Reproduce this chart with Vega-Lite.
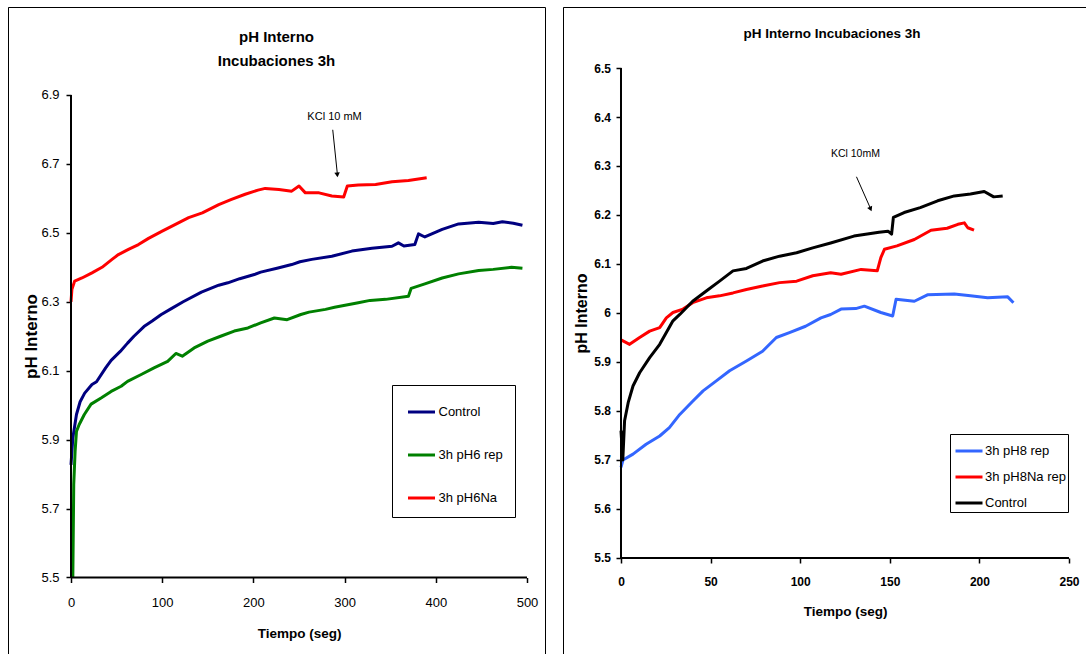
{
  "$schema": "https://vega.github.io/schema/vega-lite/v6.json",
  "background": "white",
  "padding": {"left": 7, "top": 6, "right": 0, "bottom": 0},
  "bounds": "flush",
  "spacing": 18,
  "config": {"font": "Liberation Sans"},
  "resolve": {"scale": {"color": "independent", "x": "independent", "y": "independent"}, "legend": {"color": "independent"}},
  "datasets": {
    "izq": [
      {"t": 0, "ph": 5.827, "serie": "Control"}, {"t": 2, "ph": 5.905, "serie": "Control"}, {"t": 6, "ph": 5.973, "serie": "Control"}, {"t": 10, "ph": 6.01, "serie": "Control"}, {"t": 15, "ph": 6.035, "serie": "Control"}, {"t": 23, "ph": 6.06, "serie": "Control"}, {"t": 28, "ph": 6.068, "serie": "Control"}, {"t": 38, "ph": 6.108, "serie": "Control"}, {"t": 44, "ph": 6.13, "serie": "Control"}, {"t": 54, "ph": 6.156, "serie": "Control"}, {"t": 62, "ph": 6.18, "serie": "Control"}, {"t": 69, "ph": 6.2, "serie": "Control"}, {"t": 80, "ph": 6.228, "serie": "Control"}, {"t": 89, "ph": 6.244, "serie": "Control"}, {"t": 99, "ph": 6.263, "serie": "Control"}, {"t": 110, "ph": 6.28, "serie": "Control"}, {"t": 123, "ph": 6.3, "serie": "Control"}, {"t": 143, "ph": 6.328, "serie": "Control"}, {"t": 162, "ph": 6.348, "serie": "Control"}, {"t": 172, "ph": 6.355, "serie": "Control"}, {"t": 185, "ph": 6.367, "serie": "Control"}, {"t": 201, "ph": 6.379, "serie": "Control"}, {"t": 208, "ph": 6.386, "serie": "Control"}, {"t": 227, "ph": 6.398, "serie": "Control"}, {"t": 242, "ph": 6.408, "serie": "Control"}, {"t": 251, "ph": 6.416, "serie": "Control"}, {"t": 264, "ph": 6.423, "serie": "Control"}, {"t": 286, "ph": 6.432, "serie": "Control"}, {"t": 308, "ph": 6.447, "serie": "Control"}, {"t": 330, "ph": 6.455, "serie": "Control"}, {"t": 352, "ph": 6.461, "serie": "Control"}, {"t": 359, "ph": 6.471, "serie": "Control"}, {"t": 365, "ph": 6.462, "serie": "Control"}, {"t": 377, "ph": 6.466, "serie": "Control"}, {"t": 381, "ph": 6.497, "serie": "Control"}, {"t": 388, "ph": 6.488, "serie": "Control"}, {"t": 407, "ph": 6.51, "serie": "Control"}, {"t": 425, "ph": 6.526, "serie": "Control"}, {"t": 447, "ph": 6.531, "serie": "Control"}, {"t": 463, "ph": 6.527, "serie": "Control"}, {"t": 473, "ph": 6.532, "serie": "Control"}, {"t": 485, "ph": 6.528, "serie": "Control"}, {"t": 495, "ph": 6.522, "serie": "Control"},
      {"t": 2, "ph": 5.5, "serie": "3h pH6 rep"}, {"t": 3, "ph": 5.77, "serie": "3h pH6 rep"}, {"t": 4.5, "ph": 5.866, "serie": "3h pH6 rep"}, {"t": 6, "ph": 5.924, "serie": "3h pH6 rep"}, {"t": 9, "ph": 5.944, "serie": "3h pH6 rep"}, {"t": 14.6, "ph": 5.973, "serie": "3h pH6 rep"}, {"t": 22, "ph": 6.003, "serie": "3h pH6 rep"}, {"t": 33, "ph": 6.021, "serie": "3h pH6 rep"}, {"t": 44, "ph": 6.04, "serie": "3h pH6 rep"}, {"t": 55, "ph": 6.055, "serie": "3h pH6 rep"}, {"t": 62, "ph": 6.069, "serie": "3h pH6 rep"}, {"t": 77, "ph": 6.089, "serie": "3h pH6 rep"}, {"t": 91, "ph": 6.108, "serie": "3h pH6 rep"}, {"t": 106, "ph": 6.127, "serie": "3h pH6 rep"}, {"t": 115, "ph": 6.15, "serie": "3h pH6 rep"}, {"t": 122, "ph": 6.142, "serie": "3h pH6 rep"}, {"t": 135, "ph": 6.166, "serie": "3h pH6 rep"}, {"t": 150, "ph": 6.186, "serie": "3h pH6 rep"}, {"t": 164, "ph": 6.2, "serie": "3h pH6 rep"}, {"t": 179, "ph": 6.215, "serie": "3h pH6 rep"}, {"t": 194, "ph": 6.224, "serie": "3h pH6 rep"}, {"t": 208, "ph": 6.239, "serie": "3h pH6 rep"}, {"t": 223, "ph": 6.253, "serie": "3h pH6 rep"}, {"t": 237, "ph": 6.248, "serie": "3h pH6 rep"}, {"t": 252, "ph": 6.263, "serie": "3h pH6 rep"}, {"t": 261, "ph": 6.27, "serie": "3h pH6 rep"}, {"t": 279, "ph": 6.278, "serie": "3h pH6 rep"}, {"t": 289, "ph": 6.284, "serie": "3h pH6 rep"}, {"t": 315, "ph": 6.297, "serie": "3h pH6 rep"}, {"t": 328, "ph": 6.304, "serie": "3h pH6 rep"}, {"t": 345, "ph": 6.307, "serie": "3h pH6 rep"}, {"t": 370, "ph": 6.316, "serie": "3h pH6 rep"}, {"t": 373, "ph": 6.339, "serie": "3h pH6 rep"}, {"t": 388, "ph": 6.352, "serie": "3h pH6 rep"}, {"t": 407, "ph": 6.369, "serie": "3h pH6 rep"}, {"t": 425, "ph": 6.381, "serie": "3h pH6 rep"}, {"t": 447, "ph": 6.391, "serie": "3h pH6 rep"}, {"t": 463, "ph": 6.394, "serie": "3h pH6 rep"}, {"t": 483, "ph": 6.4, "serie": "3h pH6 rep"}, {"t": 495, "ph": 6.397, "serie": "3h pH6 rep"},
      {"t": 0, "ph": 6.3, "serie": "3h pH6Na"}, {"t": 1, "ph": 6.336, "serie": "3h pH6Na"}, {"t": 4, "ph": 6.36, "serie": "3h pH6Na"}, {"t": 12, "ph": 6.369, "serie": "3h pH6Na"}, {"t": 23, "ph": 6.384, "serie": "3h pH6Na"}, {"t": 34, "ph": 6.4, "serie": "3h pH6Na"}, {"t": 45, "ph": 6.423, "serie": "3h pH6Na"}, {"t": 52, "ph": 6.437, "serie": "3h pH6Na"}, {"t": 63, "ph": 6.452, "serie": "3h pH6Na"}, {"t": 74, "ph": 6.466, "serie": "3h pH6Na"}, {"t": 85, "ph": 6.484, "serie": "3h pH6Na"}, {"t": 100, "ph": 6.505, "serie": "3h pH6Na"}, {"t": 114, "ph": 6.524, "serie": "3h pH6Na"}, {"t": 129, "ph": 6.544, "serie": "3h pH6Na"}, {"t": 144, "ph": 6.558, "serie": "3h pH6Na"}, {"t": 162, "ph": 6.582, "serie": "3h pH6Na"}, {"t": 176, "ph": 6.597, "serie": "3h pH6Na"}, {"t": 191, "ph": 6.612, "serie": "3h pH6Na"}, {"t": 205, "ph": 6.624, "serie": "3h pH6Na"}, {"t": 213, "ph": 6.629, "serie": "3h pH6Na"}, {"t": 228, "ph": 6.626, "serie": "3h pH6Na"}, {"t": 242, "ph": 6.621, "serie": "3h pH6Na"}, {"t": 250, "ph": 6.636, "serie": "3h pH6Na"}, {"t": 257, "ph": 6.616, "serie": "3h pH6Na"}, {"t": 272, "ph": 6.616, "serie": "3h pH6Na"}, {"t": 286, "ph": 6.607, "serie": "3h pH6Na"}, {"t": 299, "ph": 6.604, "serie": "3h pH6Na"}, {"t": 303, "ph": 6.636, "serie": "3h pH6Na"}, {"t": 315, "ph": 6.639, "serie": "3h pH6Na"}, {"t": 334, "ph": 6.64, "serie": "3h pH6Na"}, {"t": 352, "ph": 6.648, "serie": "3h pH6Na"}, {"t": 370, "ph": 6.652, "serie": "3h pH6Na"}, {"t": 390, "ph": 6.66, "serie": "3h pH6Na"}
    ],
    "der": [
      {"t": 0, "ph": 5.685, "serie": "3h pH8 rep"}, {"t": 1.1, "ph": 5.7, "serie": "3h pH8 rep"}, {"t": 6.7, "ph": 5.712, "serie": "3h pH8 rep"}, {"t": 14, "ph": 5.732, "serie": "3h pH8 rep"}, {"t": 21.6, "ph": 5.749, "serie": "3h pH8 rep"}, {"t": 27, "ph": 5.766, "serie": "3h pH8 rep"}, {"t": 32.8, "ph": 5.793, "serie": "3h pH8 rep"}, {"t": 40, "ph": 5.82, "serie": "3h pH8 rep"}, {"t": 45.8, "ph": 5.841, "serie": "3h pH8 rep"}, {"t": 53, "ph": 5.861, "serie": "3h pH8 rep"}, {"t": 60.6, "ph": 5.882, "serie": "3h pH8 rep"}, {"t": 70, "ph": 5.902, "serie": "3h pH8 rep"}, {"t": 79, "ph": 5.922, "serie": "3h pH8 rep"}, {"t": 86.7, "ph": 5.95, "serie": "3h pH8 rep"}, {"t": 94, "ph": 5.96, "serie": "3h pH8 rep"}, {"t": 103, "ph": 5.973, "serie": "3h pH8 rep"}, {"t": 111.6, "ph": 5.99, "serie": "3h pH8 rep"}, {"t": 117, "ph": 5.997, "serie": "3h pH8 rep"}, {"t": 122.8, "ph": 6.008, "serie": "3h pH8 rep"}, {"t": 131, "ph": 6.009, "serie": "3h pH8 rep"}, {"t": 135.8, "ph": 6.014, "serie": "3h pH8 rep"}, {"t": 145, "ph": 6.001, "serie": "3h pH8 rep"}, {"t": 151.6, "ph": 5.994, "serie": "3h pH8 rep"}, {"t": 153.5, "ph": 6.028, "serie": "3h pH8 rep"}, {"t": 163.7, "ph": 6.024, "serie": "3h pH8 rep"}, {"t": 171, "ph": 6.037, "serie": "3h pH8 rep"}, {"t": 186, "ph": 6.039, "serie": "3h pH8 rep"}, {"t": 195, "ph": 6.035, "serie": "3h pH8 rep"}, {"t": 204.6, "ph": 6.031, "serie": "3h pH8 rep"}, {"t": 215.8, "ph": 6.033, "serie": "3h pH8 rep"}, {"t": 219, "ph": 6.021, "serie": "3h pH8 rep"},
      {"t": 0, "ph": 5.945, "serie": "3h pH8Na rep"}, {"t": 1.1, "ph": 5.943, "serie": "3h pH8Na rep"}, {"t": 4.8, "ph": 5.936, "serie": "3h pH8Na rep"}, {"t": 10.4, "ph": 5.95, "serie": "3h pH8Na rep"}, {"t": 16, "ph": 5.963, "serie": "3h pH8Na rep"}, {"t": 21.6, "ph": 5.97, "serie": "3h pH8Na rep"}, {"t": 25.3, "ph": 5.99, "serie": "3h pH8Na rep"}, {"t": 29, "ph": 6.001, "serie": "3h pH8Na rep"}, {"t": 34.6, "ph": 6.008, "serie": "3h pH8Na rep"}, {"t": 40, "ph": 6.021, "serie": "3h pH8Na rep"}, {"t": 47.6, "ph": 6.031, "serie": "3h pH8Na rep"}, {"t": 55, "ph": 6.035, "serie": "3h pH8Na rep"}, {"t": 62.5, "ph": 6.041, "serie": "3h pH8Na rep"}, {"t": 70, "ph": 6.048, "serie": "3h pH8Na rep"}, {"t": 79, "ph": 6.055, "serie": "3h pH8Na rep"}, {"t": 88.5, "ph": 6.062, "serie": "3h pH8Na rep"}, {"t": 98, "ph": 6.065, "serie": "3h pH8Na rep"}, {"t": 107, "ph": 6.076, "serie": "3h pH8Na rep"}, {"t": 117, "ph": 6.082, "serie": "3h pH8Na rep"}, {"t": 122.8, "ph": 6.079, "serie": "3h pH8Na rep"}, {"t": 134, "ph": 6.089, "serie": "3h pH8Na rep"}, {"t": 143, "ph": 6.086, "serie": "3h pH8Na rep"}, {"t": 145, "ph": 6.113, "serie": "3h pH8Na rep"}, {"t": 147, "ph": 6.13, "serie": "3h pH8Na rep"}, {"t": 154, "ph": 6.137, "serie": "3h pH8Na rep"}, {"t": 163.7, "ph": 6.15, "serie": "3h pH8Na rep"}, {"t": 173, "ph": 6.169, "serie": "3h pH8Na rep"}, {"t": 182, "ph": 6.173, "serie": "3h pH8Na rep"}, {"t": 188, "ph": 6.181, "serie": "3h pH8Na rep"}, {"t": 191.6, "ph": 6.184, "serie": "3h pH8Na rep"}, {"t": 193.5, "ph": 6.174, "serie": "3h pH8Na rep"}, {"t": 197, "ph": 6.169, "serie": "3h pH8Na rep"},
      {"t": 0, "ph": 5.76, "serie": "Control"}, {"t": 1, "ph": 5.7, "serie": "Control"}, {"t": 2, "ph": 5.78, "serie": "Control"}, {"t": 4, "ph": 5.817, "serie": "Control"}, {"t": 6.7, "ph": 5.851, "serie": "Control"}, {"t": 10.4, "ph": 5.878, "serie": "Control"}, {"t": 16, "ph": 5.909, "serie": "Control"}, {"t": 21.6, "ph": 5.936, "serie": "Control"}, {"t": 25.3, "ph": 5.96, "serie": "Control"}, {"t": 29, "ph": 5.984, "serie": "Control"}, {"t": 32.8, "ph": 5.997, "serie": "Control"}, {"t": 40, "ph": 6.024, "serie": "Control"}, {"t": 47.6, "ph": 6.045, "serie": "Control"}, {"t": 55, "ph": 6.065, "serie": "Control"}, {"t": 62.5, "ph": 6.086, "serie": "Control"}, {"t": 70, "ph": 6.091, "serie": "Control"}, {"t": 79, "ph": 6.106, "serie": "Control"}, {"t": 88.5, "ph": 6.116, "serie": "Control"}, {"t": 98, "ph": 6.123, "serie": "Control"}, {"t": 107, "ph": 6.133, "serie": "Control"}, {"t": 117, "ph": 6.143, "serie": "Control"}, {"t": 130, "ph": 6.157, "serie": "Control"}, {"t": 144, "ph": 6.165, "serie": "Control"}, {"t": 149, "ph": 6.167, "serie": "Control"}, {"t": 151, "ph": 6.161, "serie": "Control"}, {"t": 152, "ph": 6.195, "serie": "Control"}, {"t": 158, "ph": 6.205, "serie": "Control"}, {"t": 167, "ph": 6.215, "serie": "Control"}, {"t": 176.7, "ph": 6.229, "serie": "Control"}, {"t": 186, "ph": 6.239, "serie": "Control"}, {"t": 195, "ph": 6.243, "serie": "Control"}, {"t": 202.7, "ph": 6.248, "serie": "Control"}, {"t": 208, "ph": 6.237, "serie": "Control"}, {"t": 213, "ph": 6.239, "serie": "Control"}
    ]
  },
  "hconcat": [
    {
      "width": 537,
      "height": 648,
      "view": {"stroke": "black", "strokeWidth": 1, "strokeDash": [1185, 537, 648]},
      "title": {"text": ["pH Interno", "Incubaciones 3h"], "anchor": "middle", "frame": "group", "font": "Liberation Sans", "fontSize": 15, "fontWeight": "bold", "color": "black", "offset": 0, "dy": 61.5, "lineHeight": 24},
      "layer": [
        {
          "data": {"name": "izq"},
          "mark": {"type": "line", "strokeWidth": 3, "strokeJoin": "round"},
          "encoding": {
            "x": {"field": "t", "type": "quantitative", "scale": {"domain": [-69.08, 519.74], "nice": false, "zero": false},
              "axis": {"orient": "bottom", "offset": -77.5, "values": [0, 100, 200, 300, 400, 500], "format": "d", "domain": false, "grid": false, "tickSize": 5, "tickWidth": 1.5, "tickColor": "black", "labelFont": "Liberation Sans", "labelFontSize": 13, "labelColor": "black", "labelPadding": 14, "title": "Tiempo (seg)", "titleFont": "Liberation Sans", "titleFontWeight": "bold", "titleFontSize": 13.5, "titleColor": "black", "titleX": 291, "titleY": 55.5, "titleBaseline": "middle"}},
            "y": {"field": "ph", "type": "quantitative", "scale": {"domain": [5.2751, 7.1553], "nice": false, "zero": false},
              "axis": {"orient": "left", "offset": -63, "values": [5.5, 5.7, 5.9, 6.1, 6.3, 6.5, 6.7, 6.9], "format": ".1f", "domain": false, "grid": false, "tickSize": 5, "tickWidth": 1.5, "tickColor": "black", "labelFont": "Liberation Sans", "labelFontSize": 13, "labelColor": "black", "labelPadding": 7, "title": "pH Interno", "titleFont": "Liberation Sans", "titleFontWeight": "bold", "titleFontSize": 17, "titleColor": "black", "titleX": -40, "titleY": 329, "titleBaseline": "middle", "titleAngle": 270}},
            "color": {"field": "serie", "type": "nominal", "scale": {"domain": ["Control", "3h pH6 rep", "3h pH6Na"], "range": ["#000080", "#008000", "#ff0000"]},
              "legend": {"orient": "none", "legendX": 384, "legendY": 378, "title": null, "symbolType": "stroke", "symbolStrokeWidth": 3, "symbolSize": 729, "symbolOffset": 2.5, "labelFont": "Liberation Sans", "labelFontSize": 13, "labelColor": "black", "labelOffset": 2, "rowPadding": 21, "padding": 12, "strokeColor": "black", "fillColor": "white"}}
          }
        },
        {"data": {"values": [{}]}, "mark": {"type": "rule", "strokeWidth": 2, "color": "black"}, "encoding": {"x": {"datum": 0}, "x2": {"datum": 500}, "y": {"datum": 5.5}}},
        {"data": {"values": [{}]}, "mark": {"type": "rule", "strokeWidth": 2, "color": "black"}, "encoding": {"x": {"datum": 0}, "y": {"datum": 5.5}, "y2": {"datum": 6.9}}},
        {"data": {"values": [{}]}, "mark": {"type": "text", "font": "Liberation Sans", "fontSize": 11, "color": "black"}, "encoding": {"x": {"datum": 289}, "y": {"datum": 6.835}, "text": {"value": "KCl 10 mM"}}},
        {"data": {"values": [{}]}, "mark": {"type": "rule", "strokeWidth": 1, "color": "black"}, "encoding": {"x": {"datum": 287}, "y": {"datum": 6.799}, "x2": {"datum": 292}, "y2": {"datum": 6.672}}},
        {"data": {"values": [{}]}, "mark": {"type": "point", "shape": "triangle-down", "filled": true, "size": 30, "color": "black", "opacity": 1, "angle": 354}, "encoding": {"x": {"datum": 292}, "y": {"datum": 6.668}}}
      ]
    },
    {
      "width": 524,
      "height": 648,
      "view": {"stroke": "black", "strokeWidth": 1, "strokeDash": [524, 1172, 648]},
      "title": {"text": "pH Interno Incubaciones 3h", "anchor": "middle", "frame": "group", "font": "Liberation Sans", "fontSize": 13.5, "fontWeight": "bold", "color": "black", "offset": 0, "dy": 33.5, "dx": 7},
      "layer": [
        {
          "data": {"name": "der"},
          "mark": {"type": "line", "strokeWidth": 3, "strokeJoin": "round"},
          "encoding": {
            "x": {"field": "t", "type": "quantitative", "scale": {"domain": [-32.366, 260.045], "nice": false, "zero": false},
              "axis": {"orient": "bottom", "offset": -97, "values": [0, 50, 100, 150, 200, 250], "format": "d", "domain": false, "grid": false, "tickSize": 5, "tickWidth": 1.5, "tickColor": "black", "labelFont": "Liberation Sans", "labelFontSize": 12, "labelFontWeight": "bold", "labelColor": "black", "labelPadding": 13.4, "title": "Tiempo (seg)", "titleFont": "Liberation Sans", "titleFontWeight": "bold", "titleFontSize": 13.5, "titleColor": "black", "titleX": 282, "titleY": 53, "titleBaseline": "middle"}},
            "y": {"field": "ph", "type": "quantitative", "scale": {"domain": [5.30204, 6.62449], "nice": false, "zero": false},
              "axis": {"orient": "left", "offset": -58, "values": [5.5, 5.6, 5.7, 5.8, 5.9, 6.0, 6.1, 6.2, 6.3, 6.4, 6.5], "format": ".1~f", "domain": false, "grid": false, "tickSize": 5, "tickWidth": 1.5, "tickColor": "black", "labelFont": "Liberation Sans", "labelFontSize": 12, "labelFontWeight": "bold", "labelColor": "black", "labelPadding": 5.5, "title": "pH Interno", "titleFont": "Liberation Sans", "titleFontWeight": "bold", "titleFontSize": 16, "titleColor": "black", "titleX": -39.5, "titleY": 306, "titleBaseline": "middle", "titleAngle": 270}},
            "color": {"field": "serie", "type": "nominal", "scale": {"domain": ["3h pH8 rep", "3h pH8Na rep", "Control"], "range": ["#3366ff", "#ff0000", "#000000"]},
              "legend": {"orient": "none", "legendX": 387, "legendY": 427, "title": null, "symbolType": "stroke", "symbolStrokeWidth": 3, "symbolSize": 729, "symbolOffset": 2, "labelFont": "Liberation Sans", "labelFontSize": 13, "labelColor": "black", "labelOffset": 1, "rowPadding": 4, "padding": 2, "strokeColor": "black", "fillColor": "white"}}
          }
        },
        {"data": {"values": [{}]}, "mark": {"type": "rule", "strokeWidth": 2, "color": "black"}, "encoding": {"x": {"datum": 0}, "x2": {"datum": 250}, "y": {"datum": 5.5}}},
        {"data": {"values": [{}]}, "mark": {"type": "rule", "strokeWidth": 2, "color": "black"}, "encoding": {"x": {"datum": 0}, "y": {"datum": 5.5}, "y2": {"datum": 6.5}}},
        {"data": {"values": [{}]}, "mark": {"type": "text", "font": "Liberation Sans", "fontSize": 10.5, "color": "black"}, "encoding": {"x": {"datum": 130.8}, "y": {"datum": 6.324}, "text": {"value": "KCl 10mM"}}},
        {"data": {"values": [{}]}, "mark": {"type": "rule", "strokeWidth": 1, "color": "black"}, "encoding": {"x": {"datum": 131.4}, "y": {"datum": 6.278}, "x2": {"datum": 138.9}, "y2": {"datum": 6.216}}},
        {"data": {"values": [{}]}, "mark": {"type": "point", "shape": "triangle-down", "filled": true, "size": 30, "color": "black", "opacity": 1, "angle": 336}, "encoding": {"x": {"datum": 139.3}, "y": {"datum": 6.212}}}
      ]
    }
  ]
}
